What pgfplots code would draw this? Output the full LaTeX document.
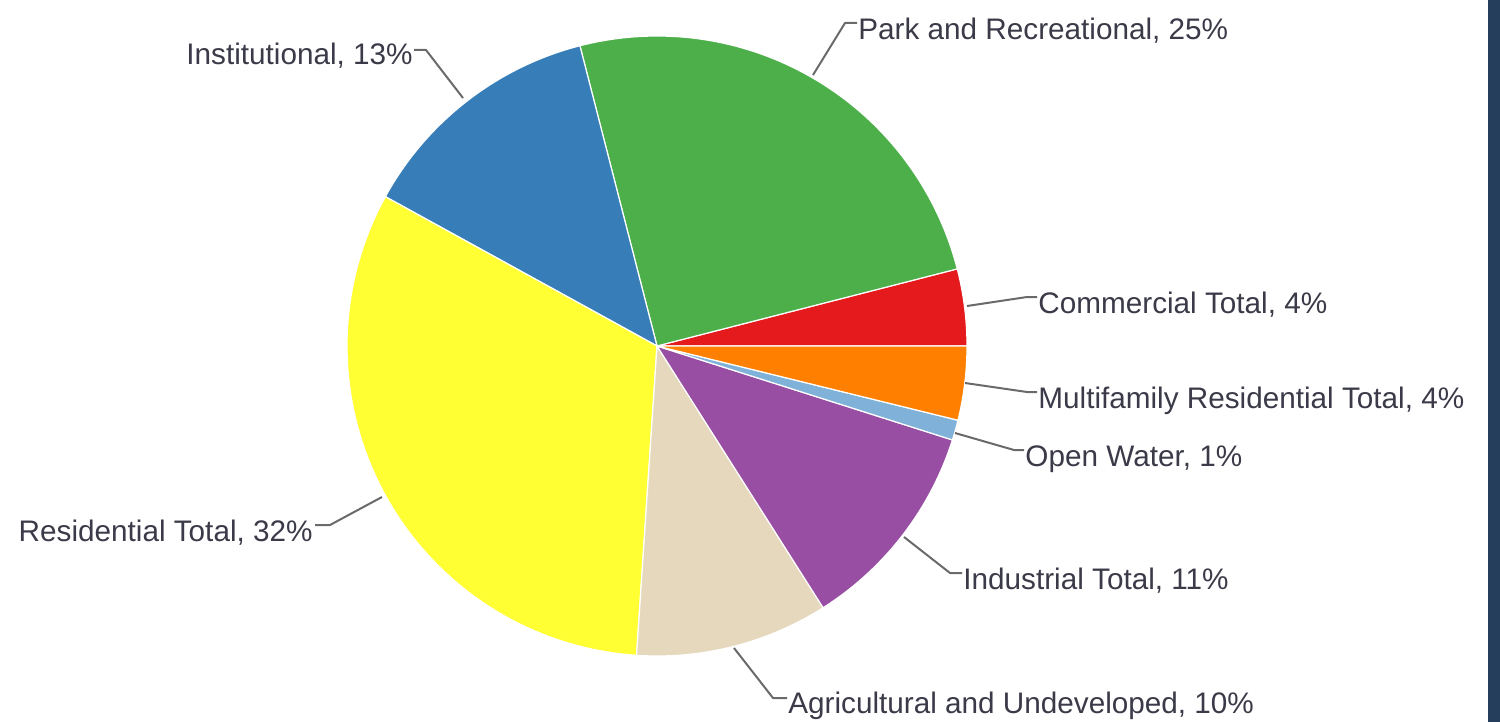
\documentclass[border=0pt]{standalone}
\usepackage{pgfplots}
\pgfplotsset{compat=1.18}
\usepackage{fontspec}
\setmainfont{Liberation Sans}
\definecolor{cRed}{HTML}{E41A1C}
\definecolor{cGreen}{HTML}{4DAF4A}
\definecolor{cBlue}{HTML}{377EB8}
\definecolor{cYellow}{HTML}{FFFF33}
\definecolor{cBeige}{HTML}{E5D8BD}
\definecolor{cPurple}{HTML}{984EA3}
\definecolor{cLightBlue}{HTML}{80B1D8}
\definecolor{cOrange}{HTML}{FF7F00}
\definecolor{cText}{HTML}{3A3A48}
\definecolor{cLine}{HTML}{6A6A6A}
\definecolor{cStrip}{HTML}{253E5C}
% running total (percent) of slices drawn so far
\def\cum{0}
\newcommand\pieslice[2]{%
  \pgfmathsetmacro\sa{\cum*3.6}%
  \pgfmathsetmacro\sb{(\cum+#1)*3.6}%
  \edef\temp{\noexpand\addplot[fill=#2, draw=white, line width=0.6pt, line join=round, domain=\sa:\sb, samples=90] ({657+310*cos(x)},{346-310*sin(x)}) -- (axis cs:657,346) -- cycle;}%
  \temp
  \pgfmathsetmacro\newcum{\cum+#1}%
  \global\let\cum\newcum
}
\newcommand\lbl{\fontsize{14.85}{17}\selectfont}
\begin{document}
\begin{tikzpicture}
\begin{axis}[at={(0,0)}, anchor=south west, width=750pt, height=361pt, scale only axis,
  xmin=0, xmax=1500, ymin=0, ymax=722, y dir=reverse, hide axis, clip=false]
% slices, counter-clockwise from 3 o'clock (values in percent)
\pieslice{4.0}{cRed}        % Commercial Total
\pieslice{25.0}{cGreen}     % Park and Recreational
\pieslice{13.0}{cBlue}      % Institutional
\pieslice{31.95}{cYellow}   % Residential Total
\pieslice{10.05}{cBeige}    % Agricultural and Undeveloped
\pieslice{11.1}{cPurple}    % Industrial Total
\pieslice{1.05}{cLightBlue} % Open Water
\pieslice{3.85}{cOrange}    % Multifamily Residential Total
% connectors
\draw[cLine, line width=1pt, line join=round] (axis cs:463,98) -- (axis cs:426,50) -- (axis cs:414,50);
\draw[cLine, line width=1pt, line join=round] (axis cs:813,75) -- (axis cs:845,23) -- (axis cs:857,23);
\draw[cLine, line width=1pt, line join=round] (axis cs:967,306) -- (axis cs:1027,297) -- (axis cs:1037,297);
\draw[cLine, line width=1pt, line join=round] (axis cs:965,383) -- (axis cs:1027,392) -- (axis cs:1037,392);
\draw[cLine, line width=1pt, line join=round] (axis cs:955,433) -- (axis cs:1014,450) -- (axis cs:1024,450);
\draw[cLine, line width=1pt, line join=round] (axis cs:904,537) -- (axis cs:950,573) -- (axis cs:962,573);
\draw[cLine, line width=1pt, line join=round] (axis cs:734,648) -- (axis cs:773,698) -- (axis cs:787,698);
\draw[cLine, line width=1pt, line join=round] (axis cs:382,497) -- (axis cs:330,525) -- (axis cs:315,525);
% labels
\node[anchor=base east, inner sep=0pt, text=cText, font=\lbl] at (axis cs:413,65) {Institutional, 13\%};
\node[anchor=base west, inner sep=0pt, text=cText, font=\lbl] at (axis cs:858,40) {Park and Recreational, 25\%};
\node[anchor=base west, inner sep=0pt, text=cText, font=\lbl] at (axis cs:1038,313) {Commercial Total, 4\%};
\node[anchor=base west, inner sep=0pt, text=cText, font=\lbl] at (axis cs:1038,408) {Multifamily Residential Total, 4\%};
\node[anchor=base west, inner sep=0pt, text=cText, font=\lbl] at (axis cs:1025,466) {Open Water, 1\%};
\node[anchor=base west, inner sep=0pt, text=cText, font=\lbl] at (axis cs:963,589) {Industrial Total, 11\%};
\node[anchor=base west, inner sep=0pt, text=cText, font=\lbl] at (axis cs:788,713) {Agricultural and Undeveloped, 10\%};
\node[anchor=base east, inner sep=0pt, text=cText, font=\lbl] at (axis cs:313,541) {Residential Total, 32\%};
% right edge strip
\fill[cStrip] (axis cs:1488,0) rectangle (axis cs:1500,722);
\end{axis}
\pgfresetboundingbox
\useasboundingbox (0,0) rectangle (750pt,361pt);
\end{tikzpicture}
\end{document}
